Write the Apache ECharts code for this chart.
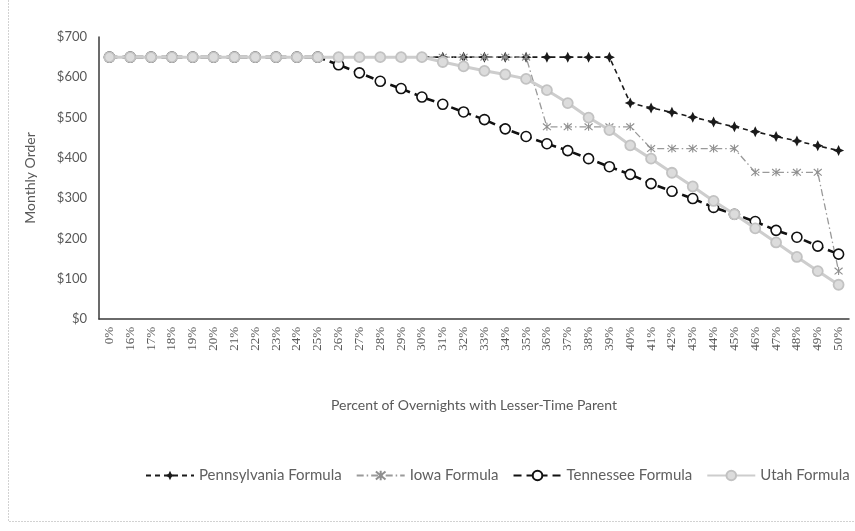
<!DOCTYPE html>
<html>
<head>
<meta charset="utf-8">
<script src="https://cdn.jsdelivr.net/npm/echarts@6/dist/echarts.min.js"></script>
<style>
  html, body { margin: 0; padding: 0; background: #fff; }
  #chart { width: 855px; height: 531px; }
</style>
</head>
<body>
<div id="chart"></div>
<script>
// Percent of overnights with the lesser-time parent
var categories = ['0%','16%','17%','18%','19%','20%','21%','22%','23%','24%','25%','26%','27%','28%','29%','30%','31%','32%','33%','34%','35%','36%','37%','38%','39%','40%','41%','42%','43%','44%','45%','46%','47%','48%','49%','50%'];

// Monthly order (USD) under each state's formula
var pennsylvania = [650,650,650,650,650,650,650,650,650,650,650,650,650,650,650,650,650,650,650,650,650,650,650,650,650,536,524,513,501,489,477,465,453,442,430,418];
var iowa = [650,650,650,650,650,650,650,650,650,650,650,650,650,650,650,650,650,650,650,650,650,477,477,477,477,477,423,423,423,423,423,364,364,364,364,119];
var tennessee = [650,650,650,650,650,650,650,650,650,650,650,631,611,590,572,551,533,514,495,472,453,435,418,398,378,359,336,317,299,277,260,242,220,203,181,161];
var utah = [650,650,650,650,650,650,650,650,650,650,650,650,650,650,650,650,638,627,616,607,596,568,536,500,469,431,398,363,329,293,260,225,190,154,119,85];

var yTicks = { min: 0, max: 700, interval: 100 };

var starPath = 'path://M0,-10 L3.2,-3.2 L10,0 L3.2,3.2 L0,10 L-3.2,3.2 L-10,0 L-3.2,-3.2 Z';
var asteriskPath = 'path://M-5,-5 L5,5 M5,-5 L-5,5 M0,-6 L0,6';

var textColor = '#595959';

var chart = echarts.init(document.getElementById('chart'), null, { renderer: 'canvas' });

chart.setOption({
  animation: false,
  backgroundColor: '#ffffff',
  grid: { left: 99, right: 6, top: 37, bottom: 212, containLabel: false },
  legend: {
    left: 140,
    top: 463,
    itemWidth: 48,
    itemHeight: 12,
    itemGap: 14,
    textStyle: { fontFamily: 'Lato', fontSize: 15, color: '#606060' },
    data: ['Pennsylvania Formula', 'Iowa Formula', 'Tennessee Formula', 'Utah Formula']
  },
  xAxis: {
    type: 'category',
    data: categories,
    boundaryGap: true,
    name: 'Percent of Overnights with Lesser-Time Parent',
    nameLocation: 'middle',
    nameGap: 79,
    nameTextStyle: { fontFamily: 'Lato', fontSize: 14, color: textColor },
    axisLine: { lineStyle: { color: '#3a3a3a', width: 1.5 } },
    axisTick: { show: false },
    axisLabel: {
      rotate: 90,
      interval: 0,
      margin: 8,
      fontFamily: 'Liberation Serif',
      fontSize: 13,
      color: textColor
    },
    splitLine: { show: false }
  },
  yAxis: {
    type: 'value',
    min: yTicks.min,
    max: yTicks.max,
    interval: yTicks.interval,
    name: 'Monthly Order',
    nameLocation: 'middle',
    nameGap: 62,
    nameTextStyle: { fontFamily: 'Lato', fontSize: 14, color: textColor },
    axisLine: { show: true, lineStyle: { color: '#3a3a3a', width: 1.5 } },
    axisTick: { show: false },
    splitLine: { show: false },
    axisLabel: {
      margin: 12,
      fontFamily: 'Lato',
      fontSize: 13,
      color: textColor,
      formatter: function (v) { return '$' + v; }
    }
  },
  series: [
    {
      name: 'Pennsylvania Formula',
      type: 'line',
      data: pennsylvania,
      symbol: starPath,
      symbolSize: 11,
      showAllSymbol: true,
      lineStyle: { color: '#1a1a1a', width: 1.6, type: [5, 4] },
      itemStyle: { color: '#1a1a1a' },
      z: 2
    },
    {
      name: 'Iowa Formula',
      type: 'line',
      data: iowa,
      symbol: asteriskPath,
      symbolSize: 8,
      showAllSymbol: true,
      lineStyle: { color: '#9a9a9a', width: 1.3, type: [7, 3, 1.5, 3] },
      itemStyle: { color: 'rgba(0,0,0,0)', borderColor: '#8f8f8f', borderWidth: 1.1 },
      z: 3
    },
    {
      name: 'Tennessee Formula',
      type: 'line',
      data: tennessee,
      symbol: 'circle',
      symbolSize: 10,
      showAllSymbol: true,
      lineStyle: { color: '#111111', width: 2.6, type: [8, 5] },
      itemStyle: { color: '#ffffff', borderColor: '#111111', borderWidth: 1.6 },
      z: 4
    },
    {
      name: 'Utah Formula',
      type: 'line',
      data: utah,
      symbol: 'circle',
      symbolSize: 10,
      showAllSymbol: true,
      lineStyle: { color: '#cdcdcd', width: 3 },
      itemStyle: { color: '#dcdcdc', borderColor: '#c2c2c2', borderWidth: 1.8 },
      z: 5
    }
  ],
  graphic: [
    {
      type: 'polyline',
      silent: true,
      shape: { points: [[8.5, 0], [8.5, 521.5], [855, 521.5]] },
      style: { fill: null, stroke: '#d2d2d2', lineWidth: 1, lineDash: [2, 1] }
    }
  ]
});
</script>
</body>
</html>
